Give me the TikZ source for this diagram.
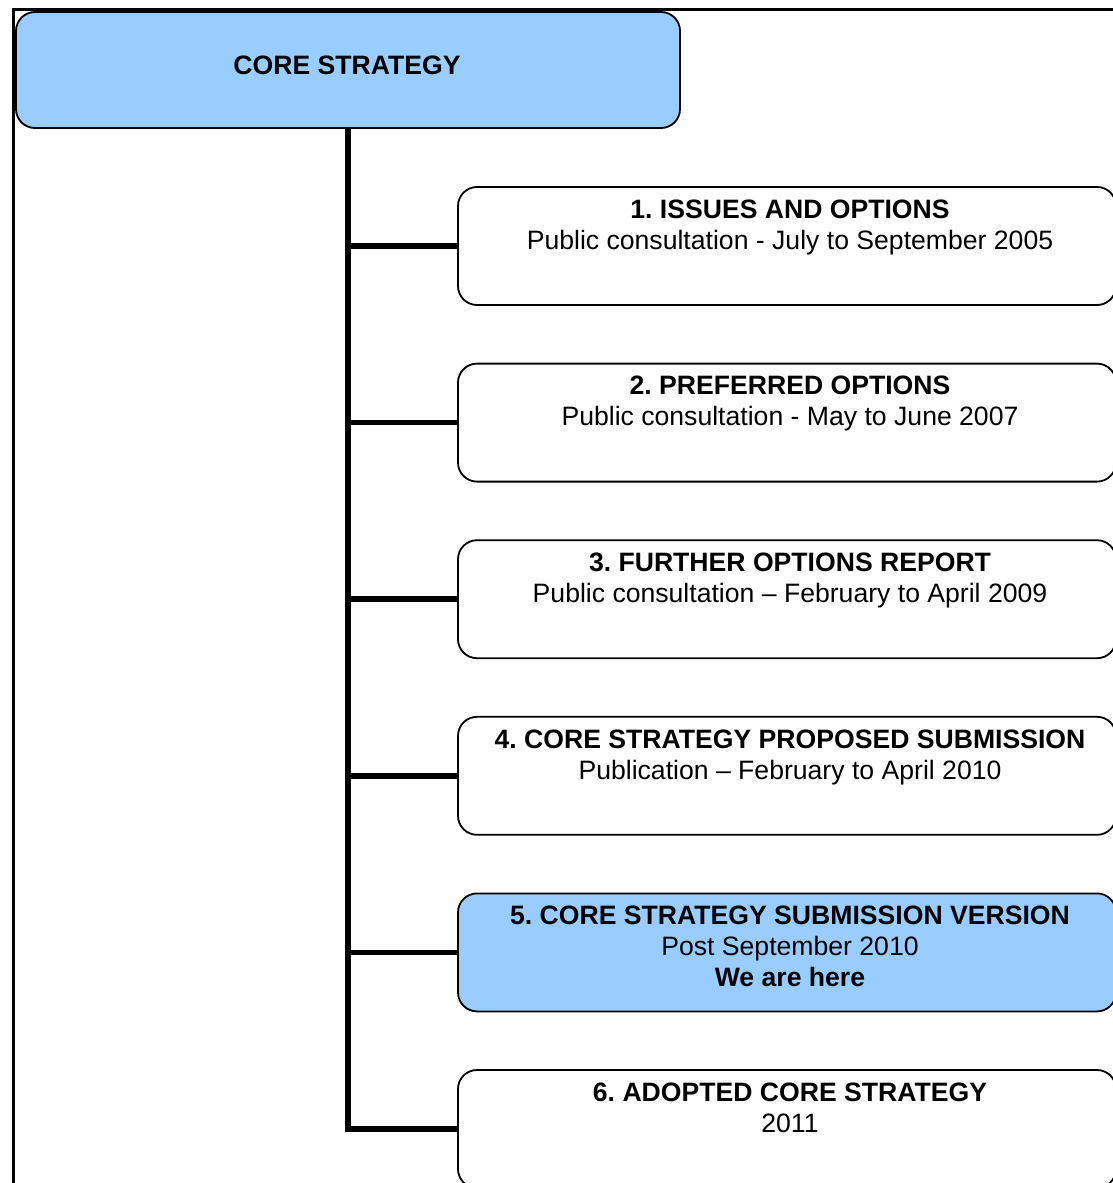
\documentclass[tikz,border=0pt]{standalone}
\usepackage{fontspec}
\setmainfont{Liberation Sans}
\definecolor{boxblue}{HTML}{99CCFF}
\frenchspacing
\begin{document}
\begin{tikzpicture}[x=1pt,y=-1pt,
  stage/.style={draw=black, line width=1.8pt, rounded corners=19pt, minimum width=658pt, minimum height=118pt, inner sep=0pt, fill=white},
  txt/.style={align=center, anchor=north, inner sep=0pt, font=\frenchspacing\fontsize{26.6}{31}\selectfont},
  trunk/.style={line width=6pt, line join=miter},
  branch/.style={line width=5.5pt}]
\useasboundingbox (0,0) rectangle (1113,1183);
\clip (0,0) rectangle (1113,1183);
\draw[line width=3pt] (13.5,9.5) rectangle (1140,1220);
% core box
\node[stage, fill=boxblue, minimum width=664pt, minimum height=116pt] (core) at (348,70) {};
\node[txt, anchor=center] (coret) at (347,65) {\textbf{CORE STRATEGY}};
% stage boxes
\node[stage] (s1) at (787,246) {};
\node[stage] (s2) at (787,422.6) {};
\node[stage] (s3) at (787,599.2) {};
\node[stage] (s4) at (787,775.8) {};
\node[stage, fill=boxblue] (s5) at (787,952.4) {};
\node[stage] (s6) at (787,1129) {};
% connectors
\draw[trunk] (core.south) -- (core.south |- s6.west) -- (s6.west);
\foreach \s in {s1,s2,s3,s4,s5}{
  \draw[branch] (core.south |- \s.west) -- (\s.west);
}
% texts
\node[txt] (t1) at ([xshift=3pt,yshift=-13.5pt]s1.north) {\textbf{1. ISSUES AND OPTIONS}\\Public consultation - July to September 2005};
\node[txt] (t2) at ([xshift=3pt,yshift=-13.5pt]s2.north) {\textbf{2. PREFERRED OPTIONS}\\Public consultation - May to June 2007};
\node[txt] (t3) at ([xshift=3pt,yshift=-13.5pt]s3.north) {\textbf{3. FURTHER OPTIONS REPORT}\\Public consultation – February to April 2009};
\node[txt] (t4) at ([xshift=3pt,yshift=-13.5pt]s4.north) {\textbf{4. CORE STRATEGY PROPOSED SUBMISSION}\\Publication – February to April 2010};
\node[txt] (t5) at ([xshift=3pt,yshift=-13.5pt]s5.north) {\textbf{5. CORE STRATEGY SUBMISSION VERSION}\\Post September 2010\\\textbf{We are here}};
\node[txt] (t6) at ([xshift=3pt,yshift=-13.5pt]s6.north) {\textbf{6. ADOPTED CORE STRATEGY}\\2011};
\end{tikzpicture}
\end{document}
